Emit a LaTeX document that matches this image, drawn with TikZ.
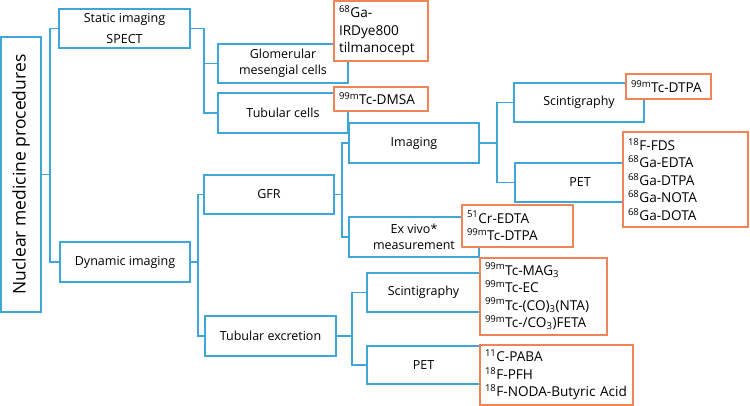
\documentclass[tikz,border=0pt]{standalone}
\usepackage{fontspec}
\setmainfont{Open Sans}
\definecolor{lineblue}{RGB}{62,166,216}
\definecolor{boxorange}{RGB}{240,132,84}
\newcommand{\iso}[1]{\textsuperscript{#1}}
\begin{document}
\begin{tikzpicture}[x=1pt,y=-1pt,
  conn/.style={draw=lineblue, line width=1.3pt},
  bbox/.style={draw=lineblue, line width=1.3pt, fill=white, inner sep=0pt, align=center, font=\fontsize{12.5}{15.5}\selectfont},
  obox/.style={draw=boxorange, line width=1.3pt, fill=white, inner xsep=5pt, inner ysep=0pt, align=left, font=\fontsize{13.6}{17.5}\selectfont}
]
\useasboundingbox (0,0) rectangle (750,406);

% junction coordinates
\coordinate (jr) at (50,174.5);
\coordinate (js) at (204,28.5);
\coordinate (jd) at (198,262);
\coordinate (jg) at (342,194.5);
\coordinate (ji) at (497,143);
\coordinate (jt) at (352,336);

% blue boxes
\node[bbox, rotate=90, minimum width=275pt, minimum height=40pt, font=\fontsize{17.5}{20}\selectfont] (root) at (21,174.5) {Nuclear medicine procedures};
\node[bbox, minimum width=131pt, minimum height=39pt, font=\fontsize{12.5}{21}\selectfont] (static) at (124.5,28.5) {Static imaging\\SPECT};
\node[bbox, minimum width=130pt, minimum height=39pt] (glom) at (283,63.5) {Glomerular\\mesengial cells};
\node[bbox, minimum width=130pt, minimum height=40pt] (tubc) at (283,113) {Tubular cells};
\node[bbox, minimum width=130pt, minimum height=40pt] (dyn) at (125,262) {Dynamic imaging};
\node[bbox, minimum width=130pt, minimum height=39pt] (gfr) at (269,194.5) {GFR};
\node[bbox, minimum width=131pt, minimum height=40pt] (tubex) at (270.5,336) {Tubular excretion};
\node[bbox, minimum width=130pt, minimum height=40pt] (img) at (414,143) {Imaging};
\node[bbox, minimum width=130pt, minimum height=40pt] (exv) at (414,237) {Ex vivo*\\measurement};
\node[bbox, minimum width=130pt, minimum height=39pt] (scint1) at (579,102.5) {Scintigraphy};
\node[bbox, minimum width=130pt, minimum height=39pt] (pet1) at (580,182.5) {PET};
\node[bbox, minimum width=113pt, minimum height=39pt] (scint2) at (423.5,292.5) {Scintigraphy};
\node[bbox, minimum width=113pt, minimum height=38pt] (pet2) at (423.5,365) {PET};

% connectors
\draw[conn] (root.south) -- (jr);
\draw[conn] (jr) |- (static.west);
\draw[conn] (jr) |- (dyn.west);
\draw[conn] (static.east) -- (js);
\draw[conn] (js) |- (glom.west);
\draw[conn] (js) |- (tubc.west);
\draw[conn] (dyn.east) -- (jd);
\draw[conn] (jd) |- (gfr.west);
\draw[conn] (jd) |- (tubex.west);
\draw[conn] (gfr.east) -- (jg);
\draw[conn] (jg) |- (img.west);
\draw[conn] (jg) |- (exv.west);
\draw[conn] (img.east) -- (ji);
\draw[conn] (ji) |- (scint1.west);
\draw[conn] (ji) |- (pet1.west);
\draw[conn] (tubex.east) -- (jt);
\draw[conn] (jt) |- (scint2.west);
\draw[conn] (jt) |- (pet2.west);

% orange boxes
\node[obox, text width=84pt, minimum height=60pt] (o1) at (381,31) {\iso{68}Ga-\\IRDye800\\tilmanocept};
\node[obox, text width=84pt, minimum height=24pt] (o2) at (381,99) {\iso{99m}Tc-DMSA};
\node[obox, text width=75pt, minimum height=25pt] (o3) at (668.5,86.5) {\iso{99m}Tc-DTPA};
\node[obox, text width=115pt, minimum height=95pt] (o4) at (685.5,179.5) {\iso{18}F-FDS\\\iso{68}Ga-EDTA\\\iso{68}Ga-DTPA\\\iso{68}Ga-NOTA\\\iso{68}Ga-DOTA};
\node[obox, text width=101pt, minimum height=42pt] (o5) at (517.5,226) {\iso{51}Cr-EDTA\\\iso{99m}Tc-DTPA};
\node[obox, text width=117pt, minimum height=77pt] (o6) at (543.5,296.5) {\iso{99m}Tc-MAG\textsubscript{3}\\\iso{99m}Tc-EC\\\iso{99m}Tc-(CO)\textsubscript{3}(NTA)\\\iso{99m}Tc-/CO\textsubscript{3})FETA};
\node[obox, text width=143pt, minimum height=60pt] (o7) at (556.5,375) {\iso{11}C-PABA\\\iso{18}F-PFH\\\mbox{\iso{18}F-NODA-Butyric Acid}};
\end{tikzpicture}
\end{document}
